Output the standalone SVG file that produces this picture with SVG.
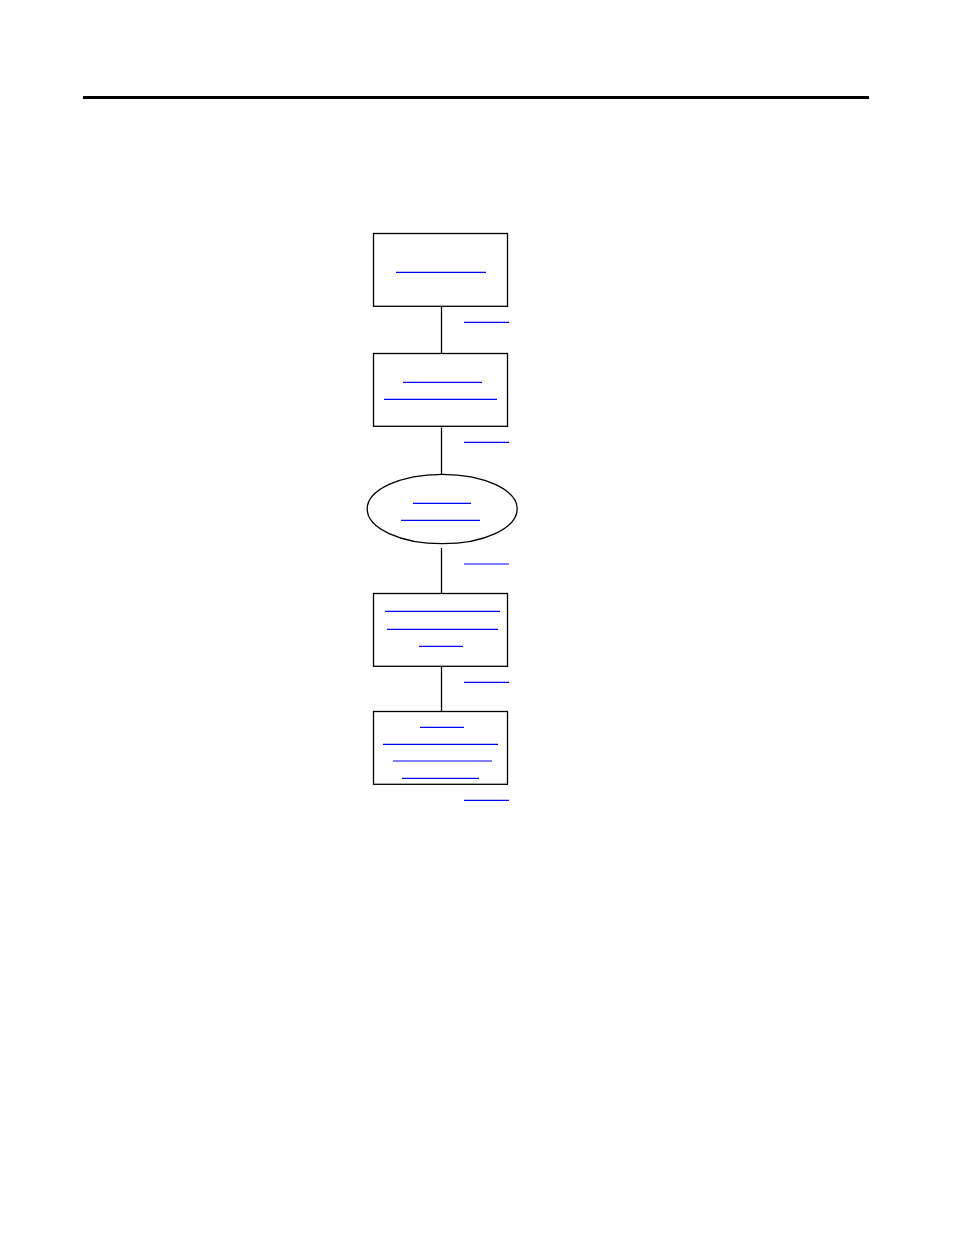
<svg xmlns="http://www.w3.org/2000/svg" width="954" height="1235" viewBox="0 0 954 1235">
<style>
.box{fill:#fff;stroke:#000;stroke-width:1.3}
.conn{stroke:#000;stroke-width:1.3;fill:none}
.lnk{stroke:#0000ff;stroke-width:1.2;fill:none}
</style>
<rect width="954" height="1235" fill="#fff"/>
<rect x="83" y="96" width="786" height="3" fill="#000"/>
<g id="connectors">
<line class="conn" x1="441.5" y1="306" x2="441.5" y2="353.5"/>
<line class="conn" x1="441.5" y1="427.5" x2="441.5" y2="474"/>
<line class="conn" x1="441.5" y1="548" x2="441.5" y2="593.5"/>
<line class="conn" x1="441.5" y1="665.5" x2="441.5" y2="711.5"/>
<line class="lnk" x1="464" y1="322.3" x2="509" y2="322.3"/>
<line class="lnk" x1="464" y1="442.3" x2="509" y2="442.3"/>
<line class="lnk" x1="464" y1="564" x2="509" y2="564"/>
<line class="lnk" x1="464" y1="682.3" x2="509" y2="682.3"/>
<line class="lnk" x1="464" y1="800.3" x2="509" y2="800.3"/>
</g>
<g id="node1">
<rect class="box" x="373.5" y="233.5" width="134" height="72.8"/>
<line class="lnk" x1="396" y1="272.3" x2="486" y2="272.3"/>
</g>
<g id="node2">
<rect class="box" x="373.5" y="353.5" width="134" height="72.8"/>
<line class="lnk" x1="403" y1="382.3" x2="482" y2="382.3"/>
<line class="lnk" x1="384" y1="399.3" x2="497" y2="399.3"/>
</g>
<g id="node3">
<ellipse class="box" cx="442.2" cy="509" rx="75" ry="34.7" stroke="#333"/>
<line class="lnk" x1="413" y1="503.3" x2="471" y2="503.3"/>
<line class="lnk" x1="401" y1="520.3" x2="480" y2="520.3"/>
</g>
<g id="node4">
<rect class="box" x="373.5" y="593.5" width="134" height="72.8"/>
<line class="lnk" x1="385" y1="611.3" x2="500" y2="611.3"/>
<line class="lnk" x1="387" y1="629.3" x2="498" y2="629.3"/>
<line class="lnk" x1="419" y1="646.3" x2="463" y2="646.3"/>
</g>
<g id="node5">
<rect class="box" x="373.5" y="711.5" width="134" height="72.8"/>
<line class="lnk" x1="420" y1="727.3" x2="464" y2="727.3"/>
<line class="lnk" x1="383" y1="744.3" x2="498" y2="744.3"/>
<line class="lnk" x1="393" y1="761" x2="492" y2="761"/>
<line class="lnk" x1="402" y1="778.3" x2="479" y2="778.3"/>
</g>
</svg>
